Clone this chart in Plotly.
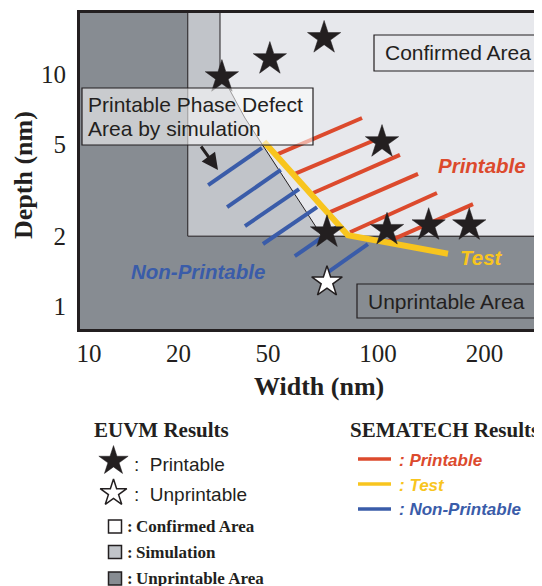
import numpy as np
import plotly.graph_objects as go

# ---------------- data ----------------
# schematic (non-uniform) width axis: tick values and their relative positions
X_TICKS = [10, 20, 50, 100, 200]
X_TICK_POS = [0, 1, 2, 3.23, 4.42]
Y_TICKS = [1, 2, 5, 10]
X_RANGE_NM = [9.33, 290.6]
Y_RANGE_NM = [0.796, 18.32]

# areas (width nm, depth nm)
UNPRINT_W = [5, 1000, 1000, 5]
UNPRINT_D = [0.3, 0.3, 50, 50]
SIM_W = [22, 1000, 1000, 22]
SIM_D = [2, 2, 50, 50]
CONF_W = [30.6, 1000, 1000, 70.2, 63.9, 53.9, 39.5, 30.6]
CONF_D = [50, 50, 2, 2, 2.52, 3.78, 6.46, 10.2]

# EUVM results
PRINT_W = [31.2, 50.6, 71.2, 102.6, 72.5, 106, 139, 181]
PRINT_D = [9.7, 11.6, 14.3, 5.09, 2.08, 2.13, 2.23, 2.23]
UNPR_W = [72.5]
UNPR_D = [1.27]

# SEMATECH results (segments start -> end)
RED_W0 = [52.6, 59.2, 66.4, 73.9, 83.8, 104.6]
RED_D0 = [4.48, 3.71, 3.07, 2.54, 2.08, 1.87]
RED_W1 = [90.4, 102.6, 115.3, 129.7, 146.7, 185.5]
RED_D1 = [6.46, 5.35, 4.48, 3.71, 3.07, 2.75]
BLUE_W0 = [27.1, 32.9, 39.5, 47.5, 59.2, 73.0]
BLUE_D0 = [3.32, 2.67, 2.21, 1.85, 1.64, 1.40]
BLUE_W1 = [47.0, 54.2, 60.8, 68.1, 77.2, 93.8]
BLUE_D1 = [4.80, 3.86, 3.19, 2.67, 2.19, 1.85]
TEST_W = [48.0, 82.7, 157.6]
TEST_D = [5.1, 2.02, 1.68]

# ---------------- styling ----------------
SANS = "Liberation Sans, Arial, sans-serif"
SERIF = "Liberation Serif, Times New Roman, serif"
INK = "#231f20"
C_DARK = "#878c92"
C_SIM = "#c1c4c9"
C_CONF = "#e7e8ec"
C_RED = "#dc4a2d"
C_BLUE = "#3a5ca9"
C_YEL = "#f8c51e"

LT = np.log10(X_TICKS)
PT = np.array(X_TICK_POS, float)


def U(w):
    lw = np.log10(np.atleast_1d(np.asarray(w, float)))
    out = np.interp(lw, LT, PT)
    lo, hi = lw < LT[0], lw > LT[-1]
    out[lo] = PT[0] + (lw[lo] - LT[0]) * (PT[1] - PT[0]) / (LT[1] - LT[0])
    out[hi] = PT[-1] + (lw[hi] - LT[-1]) * (PT[-1] - PT[-2]) / (LT[-1] - LT[-2])
    return out


def segs(w0, d0, w1, d1):
    xs, ys = [], []
    for a, b, c, d in zip(U(w0), d0, U(w1), d1):
        xs += [a, c, None]
        ys += [b, d, None]
    return xs, ys


# page body has an 8px margin: figure occupies screen px 8..542 x 8..586
OFF = 8
W, H = 542 - OFF, 586 - OFF
ML, MT = 80 - OFF, 13 - OFF


# layout helpers: screen pixel -> paper
def PX(x):
    return (x - OFF - ML) / (W - ML)


def PY(y):
    return (H + OFF - y) / (H - MT)


MAIN_BOTTOM = PY(329)

fig = go.Figure()


def poly(wv, dv, fill, lw):
    fig.add_trace(go.Scatter(x=list(U(wv)) + [U(wv)[0]], y=list(dv) + [dv[0]],
                             mode="lines", fill="toself", fillcolor=fill,
                             line=dict(color=INK, width=lw), hoverinfo="skip"))


poly(UNPRINT_W, UNPRINT_D, C_DARK, 0)
poly(SIM_W, SIM_D, C_SIM, 1)
poly(CONF_W, CONF_D, C_CONF, 1)

bx, by = segs(BLUE_W0, BLUE_D0, BLUE_W1, BLUE_D1)
fig.add_trace(go.Scatter(x=bx, y=by, mode="lines", line=dict(color=C_BLUE, width=4)))
rx, ry = segs(RED_W0, RED_D0, RED_W1, RED_D1)
fig.add_trace(go.Scatter(x=rx, y=ry, mode="lines", line=dict(color=C_RED, width=4)))
fig.add_trace(go.Scatter(x=U(TEST_W), y=TEST_D, mode="lines",
                         line=dict(color=C_YEL, width=6)))
fig.add_trace(go.Scatter(x=U(PRINT_W), y=PRINT_D, mode="markers",
                         marker=dict(symbol="star", size=25, color=INK,
                                     line=dict(color=INK, width=0.5))))
fig.add_trace(go.Scatter(x=U(UNPR_W), y=UNPR_D, mode="markers",
                         marker=dict(symbol="star", size=23, color="white",
                                     line=dict(color=INK, width=1.5))))

# legend stars (in legend subplot, paper-like coords)
fig.add_trace(go.Scatter(x=[PX(113.5)], y=[PY(461)], xaxis="x2", yaxis="y2", mode="markers",
                         marker=dict(symbol="star", size=22, color=INK,
                                     line=dict(color=INK, width=0.5)), cliponaxis=False))
fig.add_trace(go.Scatter(x=[PX(113.5)], y=[PY(493)], xaxis="x2", yaxis="y2", mode="markers",
                         marker=dict(symbol="star", size=20, color="white",
                                     line=dict(color=INK, width=1.5)), cliponaxis=False))

shapes = []
# text boxes
shapes.append(dict(type="rect", xref="paper", yref="paper", x0=PX(82), x1=PX(313),
                   y0=PY(145), y1=PY(88), fillcolor="rgba(255,255,255,0.55)",
                   line=dict(color=INK, width=1.2)))
shapes.append(dict(type="rect", xref="paper", yref="paper", x0=PX(374), x1=1.02,
                   y0=PY(71), y1=PY(35), fillcolor="rgba(0,0,0,0)",
                   line=dict(color=INK, width=1.2)))
shapes.append(dict(type="rect", xref="paper", yref="paper", x0=PX(357), x1=PX(538),
                   y0=PY(318), y1=PY(284), fillcolor="rgba(0,0,0,0)",
                   line=dict(color=INK, width=1.2)))
# legend squares
for yc, col in [(526.5, "white"), (552, C_SIM), (578.5, C_DARK)]:
    shapes.append(dict(type="rect", xref="paper", yref="paper", x0=PX(108.5), x1=PX(121.5),
                       y0=PY(yc + 6.5), y1=PY(yc - 6.5), fillcolor=col,
                       line=dict(color=INK, width=1.5)))
# legend lines
for yc, col in [(459, C_RED), (484, C_YEL), (509, C_BLUE)]:
    shapes.append(dict(type="line", xref="paper", yref="paper", x0=PX(358), x1=PX(391),
                       y0=PY(yc), y1=PY(yc), line=dict(color=col, width=3.5)))

ann = []


def text(x, y, s, size, color=INK, family=SANS, xanchor="center", angle=0):
    ann.append(dict(x=PX(x), y=PY(y), xref="paper", yref="paper", text=s, showarrow=False,
                    xanchor=xanchor, yanchor="middle", textangle=angle,
                    font=dict(family=family, size=size, color=color)))


text(86, 104.5, "Printable Phase Defect", 21, xanchor="left")
text(86, 128.5, "Area by simulation", 21, xanchor="left")
text(458, 52.5, "Confirmed Area", 21)
text(446.5, 301.5, "Unprintable Area", 21)
text(481.5, 165, "<b><i>Printable</i></b>", 20.5, color=C_RED)
text(198, 271, "<b><i>Non-Printable</i></b>", 20.5, color=C_BLUE)
text(481, 257.5, "<b><i>Test</i></b>", 20.5, color=C_YEL)
text(318.5, 386, "<b>Width (nm)</b>", 26, family=SERIF)
text(24, 175, "<b>Depth (nm)</b>", 26, family=SERIF, angle=-90)

# legend texts
text(161, 430, "<b>EUVM Results</b>", 21, family=SERIF)
text(444.5, 430, "<b>SEMATECH Results</b>", 21, family=SERIF)
text(132, 464, ":  Printable", 19, xanchor="left")
text(132, 494, ":  Unprintable", 19, xanchor="left")
text(125, 526.5, "<b>:\u2009Confirmed Area</b>", 17, family=SERIF, xanchor="left")
text(125, 552, "<b>:\u2009Simulation</b>", 17, family=SERIF, xanchor="left")
text(125, 578.5, "<b>:\u2009Unprintable Area</b>", 17, family=SERIF, xanchor="left")
text(397, 460, "<b><i>: Printable</i></b>", 17, color=C_RED, xanchor="left")
text(397, 485, "<b><i>: Test</i></b>", 17, color=C_YEL, xanchor="left")
text(397, 510, "<b><i>: Non-Printable</i></b>", 17, color=C_BLUE, xanchor="left")

# arrow
ann.append(dict(x=PX(218), y=PY(170), xref="paper", yref="paper", text="", showarrow=True,
                ax=-18, ay=-25, arrowhead=2, arrowsize=1.1, arrowwidth=3, arrowcolor=INK))

axis_font = dict(family=SERIF, size=25, color=INK)
fig.update_layout(
    width=W, height=H, margin=dict(l=ML, r=0, t=MT, b=0),
    paper_bgcolor="white", plot_bgcolor="rgba(0,0,0,0)", showlegend=False,
    xaxis=dict(domain=[0, 1], anchor="y", range=list(U(X_RANGE_NM)),
               tickvals=list(U(X_TICKS)), ticktext=[str(t) for t in X_TICKS],
               showgrid=False, zeroline=False, showline=True, linewidth=3,
               linecolor=INK, mirror=True, ticks="", tickfont=axis_font),
    yaxis=dict(domain=[MAIN_BOTTOM, 1], anchor="x", type="log",
               range=[np.log10(Y_RANGE_NM[0]), np.log10(Y_RANGE_NM[1])],
               tickvals=Y_TICKS, ticktext=[str(t) for t in Y_TICKS],
               showgrid=False, zeroline=False, showline=True, linewidth=3,
               linecolor=INK, mirror=False, ticks="", tickfont=axis_font,
               ticklabelstandoff=6),
    xaxis2=dict(domain=[0, 1], anchor="y2", range=[0, 1], visible=False),
    yaxis2=dict(domain=[0, MAIN_BOTTOM], anchor="x2", range=[0, MAIN_BOTTOM], visible=False),
    shapes=shapes, annotations=ann,
)

fig.write_html("out.html")
